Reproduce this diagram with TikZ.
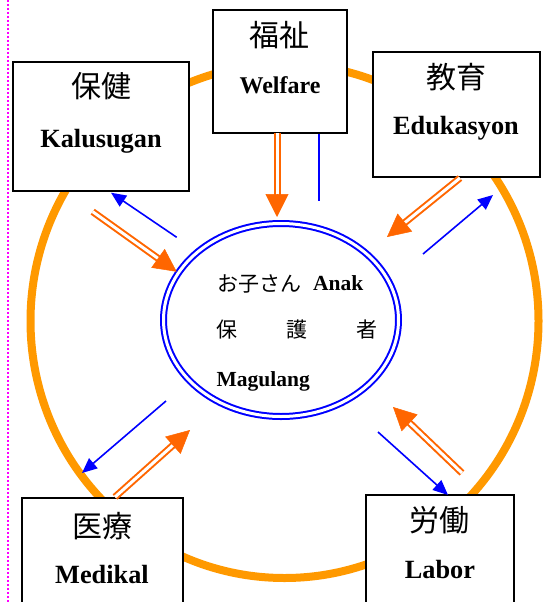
\documentclass[tikz,border=0pt]{standalone}
\usepackage{fontspec}
\setmainfont{Liberation Serif}
\newfontfamily\jpfont{Noto Sans CJK JP}
\usetikzlibrary{calc,arrows.meta,shapes.geometric}
\definecolor{ringc}{HTML}{FF9900}
\definecolor{arrc}{HTML}{FF6600}
\definecolor{bluc}{HTML}{0000FF}
\definecolor{magc}{HTML}{FF00FF}
\newcommand\oarr[2]{%
  \draw[oshaft] (#1) -- ($(#2)!21pt!(#1)$);
  \draw[ohead] ($(#2)!23pt!(#1)$) -- (#2);}
\begin{document}
\begin{tikzpicture}[x=1pt,y=-1pt,
  boxst/.style={draw=black, line width=1.8pt, fill=white, rectangle, inner sep=0pt},
  kanji/.style={font=\jpfont\fontsize{30}{32}\selectfont, inner sep=0pt},
  latin/.style={font=\bfseries\fontsize{26.3}{28}\selectfont, inner sep=0pt, anchor=base},
  intext/.style={font=\jpfont\fontsize{21}{23}\selectfont, inner sep=0pt},
  inlatin/.style={font=\bfseries\fontsize{21.5}{23}\selectfont, inner sep=0pt, anchor=base west},
  oshaft/.style={draw=arrc, line width=2pt, double=white, double distance=3pt},
  ohead/.style={draw=arrc, fill=arrc, line width=0.5pt, -{Triangle[length=23pt,width=23pt]}},
  blu/.style={draw=bluc, line width=1.6pt},
  bluarr/.style={blu, -{Triangle[length=15pt,width=13pt]}}]
\useasboundingbox (0,0) rectangle (549,602);
\clip (0,0) rectangle (549,602);
% ring
\draw[ringc, line width=8pt] (284.5,321) circle [x radius=254pt, y radius=257pt];
% boxes
\node[boxst, minimum width=176pt, minimum height=129pt] (kal) at (101,126.5) {};
\node[boxst, minimum width=134pt, minimum height=123pt] (wel) at (280,71.5) {};
\node[boxst, minimum width=167pt, minimum height=125pt] (edu) at (456.5,114.5) {};
\node[boxst, minimum width=161pt, minimum height=142pt] (med) at (102.5,569) {};
\node[boxst, minimum width=148pt, minimum height=145pt] (lab) at (440,567.5) {};
% box texts
\node[kanji] (kalj) at (101.5,86) {保健};
\node[latin] (kall) at (101,147) {Kalusugan};
\node[kanji] (welj) at (279.5,35.5) {福祉};
\node[latin, font=\bfseries\fontsize{24}{26}\selectfont] (well) at (280,93) {Welfare};
\node[kanji] (eduj) at (456,77.5) {教育};
\node[latin] (edul) at (456,134) {Edukasyon};
\node[kanji] (medj) at (102.5,526) {医療};
\node[latin] (medl) at (102,583) {Medikal};
\node[kanji] (labj) at (439.5,520) {労働};
\node[latin] (labl) at (440,578) {Labor};
% center ellipse
\node[ellipse, draw=bluc, line width=2pt, double=white, double distance=3pt, fill=white,
      minimum width=235pt, minimum height=193pt, inner sep=0pt] (core) at (281,320) {};
\node[intext, anchor=west] (child) at (217,283.5) {お子さん};
\node[inlatin] (anak) at (313,290) {Anak};
\node[intext] (ho) at (226.7,330) {保};
\node[intext] (go) at (296.7,330) {護};
\node[intext] (sha) at (366.7,330) {者};
\node[inlatin] (mag) at (216.5,386) {Magulang};
% arrow end points
\coordinate (wA) at (277,133);   \coordinate (wB) at (277,217);
\coordinate (wC) at (319,134); \coordinate (wD) at (319,201);
\coordinate (kA) at (92.7,211.7); \coordinate (kB) at (176.7,271.7);
\coordinate (kC) at (176.7,237.3); \coordinate (kD) at (111,192.7);
\coordinate (eA) at (460,178); \coordinate (eB) at (387,237);
\coordinate (eC) at (423,254); \coordinate (eD) at (493,195);
\coordinate (mA) at (115,497); \coordinate (mB) at (190,430);
\coordinate (mC) at (166,401); \coordinate (mD) at (82,473);
\coordinate (lA) at (462,473); \coordinate (lB) at (393,407);
\coordinate (lC) at (378,432); \coordinate (lD) at (448,495);
% orange double arrows
\oarr{wA}{wB}
\oarr{kA}{kB}
\oarr{eA}{eB}
\oarr{mA}{mB}
\oarr{lA}{lB}
% blue arrows
\draw[bluc, line width=2pt] (wC) -- (wD);
\draw[bluarr] (kC) -- (kD);
\draw[bluarr] (eC) -- (eD);
\draw[bluarr] (mC) -- (mD);
\draw[bluarr] (lC) -- (lD);
% magenta dotted margin line
\coordinate (mgT) at (8,0); \coordinate (mgB) at (8,602);
\draw[magc, line width=2.6pt, dash pattern=on 2pt off 2pt] (mgT) -- (mgB);
\end{tikzpicture}
\end{document}
